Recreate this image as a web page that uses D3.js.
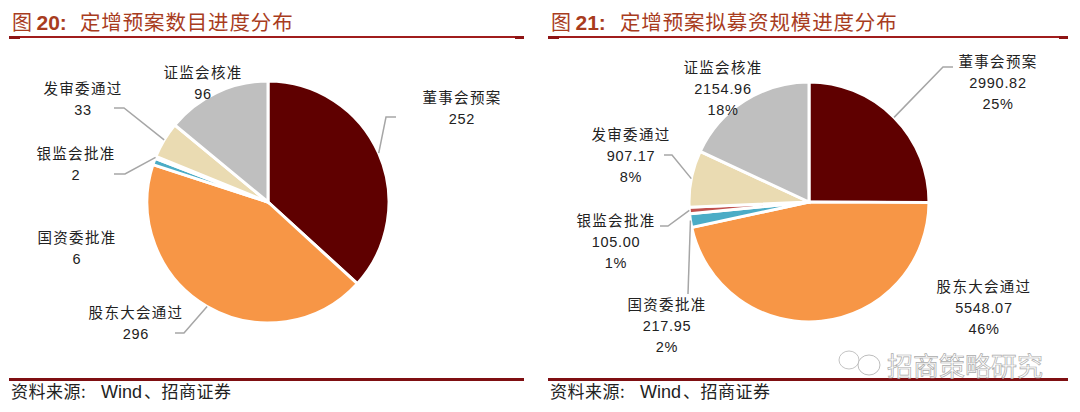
<!DOCTYPE html>
<html>
<head>
<meta charset="utf-8">
<script src="https://cdn.jsdelivr.net/npm/d3@7"></script>
<style>
  html, body { margin: 0; padding: 0; background: #fff; }
  svg { display: block; }
  text { font-family: "Noto Sans CJK SC", "Liberation Sans", sans-serif; }
</style>
</head>
<body>
<script>
const categories = ['董事会预案', '股东大会通过', '国资委批准', '银监会批准', '发审委通过', '证监会核准'];
const countValues = [252, 296, 6, 2, 33, 96];
const amountValues = [2990.82, 5548.07, 217.95, 105.00, 907.17, 2154.96];
const amountLabels = ['2990.82', '5548.07', '217.95', '105.00', '907.17', '2154.96'];
const amountShares = ['25%', '46%', '2%', '1%', '8%', '18%'];
const colors = ['#5f0000', '#f79646', '#4bacc6', '#c0504d', '#eadbb2', '#bfbfbf'];

const w = 1080, h = 412;
const svg = d3.select('body').append('svg').attr('width', w).attr('height', h);
const color = d3.scaleOrdinal().domain(categories).range(colors);

// label centres [x, baseline of the first line]
const leftLabels = [[462, 103], [136, 318], [77, 243], [76, 159], [83, 94], [203, 78]];
const rightLabels = [[998, 67], [984, 292], [667, 310], [616, 226], [631, 140], [723, 73]];

// leader lines: elbow and end, relative to the pie centre
const leftLeaders = [
  [[118, -85], [128, -85]], [[-84, 131], [-93, 131]], null,
  [[-143, -28], [-154, -28]], [[-144, -94], [-154, -94]], null
];
const rightLeaders = [
  [[134, -135], [144, -135]], null,
  [[-121, 92], [-121, 92]],
  [[-141, 24], [-149, 24]], [[-137, -47], [-145, -47]], null
];

function drawPanel(opt) {
  const g = svg.append('g');
  const pie = d3.pie().sort(null).value(d => d.value);
  const arc = d3.arc().innerRadius(0).outerRadius(opt.r);
  const edge = d3.arc().innerRadius(opt.r).outerRadius(opt.r);
  const rows = categories.map((c, i) => ({ name: c, value: opt.values[i], lines: opt.lines(i) }));
  const arcs = pie(rows);

  // title
  const title = g.append('text').attr('x', opt.x0 + 3).attr('y', 30)
    .attr('fill', '#a83c1e').style('font-size', '20px');
  title.append('tspan').text('图 ');
  title.append('tspan').text(opt.num).style('font-family', '"Liberation Sans"').style('font-weight', 'bold').style('font-size', '21px');
  title.append('tspan').text(':').style('font-family', '"Liberation Sans"').style('font-weight', 'bold').style('font-size', '21px');
  g.append('text').attr('x', opt.titleX).attr('y', 30).attr('fill', '#a83c1e')
    .style('font-size', '20.5px').style('letter-spacing', '0.85px').text(opt.title);

  // rules
  g.append('rect').attr('x', opt.x0).attr('y', 36).attr('width', opt.x1 - opt.x0).attr('height', 2).attr('fill', '#a01c1c');
  g.append('rect').attr('x', opt.x0).attr('y', 36).attr('width', 11).attr('height', 3).attr('fill', '#8e1414');
  g.append('rect').attr('x', opt.x1 - 9).attr('y', 36).attr('width', 9).attr('height', 3).attr('fill', '#8e1414');
  g.append('rect').attr('x', opt.x0).attr('y', 378).attr('width', opt.x1 - opt.x0).attr('height', 3).attr('fill', '#7f0f12');

  // source
  g.append('text').attr('x', opt.x0 + 2).attr('y', 398).attr('fill', '#222')
    .style('font-size', '17px').style('letter-spacing', '0.5px').text('资料来源:');
  g.append('text').attr('x', opt.x0 + 92).attr('y', 398).attr('fill', '#222')
    .style('font-family', '"Liberation Sans"').style('font-size', '18px').text('Wind');
  g.append('text').attr('x', opt.x0 + 135).attr('y', 398).attr('fill', '#222')
    .style('font-size', '17px').style('letter-spacing', '0.5px').text('、招商证券');

  // pie
  const pieG = g.append('g').attr('transform', `translate(${opt.cx},${opt.cy})`);
  pieG.selectAll('path.slice')
    .data(arcs)
    .enter()
    .append('path')
      .attr('class', 'slice')
      .attr('d', arc)
      .attr('fill', d => color(d.data.name))
      .attr('stroke', '#fff')
      .attr('stroke-width', 3);

  // leader lines
  const line = d3.line();
  arcs.forEach((d, i) => {
    const l = opt.leaders[i];
    if (!l) return;
    pieG.append('path')
      .attr('d', line([edge.centroid(d), l[0], l[1]]))
      .attr('fill', 'none')
      .attr('stroke', '#a6a6a6')
      .attr('stroke-width', 1.5);
  });

  // labels
  rows.forEach((d, i) => {
    const p = opt.labels[i];
    const t = g.append('text').attr('text-anchor', 'middle').attr('fill', '#222');
    t.append('tspan').attr('x', p[0]).attr('y', p[1])
      .style('font-size', '14.5px').style('letter-spacing', '1.3px').text(d.name);
    d.lines.forEach((s, k) => {
      t.append('tspan').attr('x', p[0]).attr('y', p[1] + 21 * (k + 1))
        .style('font-family', '"Liberation Sans"').style('font-size', '14.5px')
        .style('letter-spacing', '0.7px').text(s);
    });
  });
}

drawPanel({
  x0: 9, x1: 524, num: '20', title: '定增预案数目进度分布', titleX: 80,
  cx: 268, cy: 202, r: 121,
  values: countValues, lines: i => [String(countValues[i])],
  leaders: leftLeaders, labels: leftLabels
});

drawPanel({
  x0: 548, x1: 1068, num: '21', title: '定增预案拟募资规模进度分布', titleX: 620,
  cx: 809, cy: 202, r: 120,
  values: amountValues, lines: i => [amountLabels[i], amountShares[i]],
  leaders: rightLeaders, labels: rightLabels
});

// watermark
const wm = svg.append('g');
wm.append('ellipse').attr('cx', 849).attr('cy', 360).attr('rx', 10).attr('ry', 9).attr('fill', '#fff').attr('stroke', '#c4c4c4');
wm.append('ellipse').attr('cx', 869).attr('cy', 365).attr('rx', 11).attr('ry', 10).attr('fill', '#fff').attr('stroke', '#bdbdbd');
wm.append('text').attr('x', 887).attr('y', 376).attr('fill', '#fff').attr('stroke', '#aaa').attr('stroke-width', 0.7)
  .style('font-size', '26px').text('招商策略研究');
</script>
</body>
</html>
